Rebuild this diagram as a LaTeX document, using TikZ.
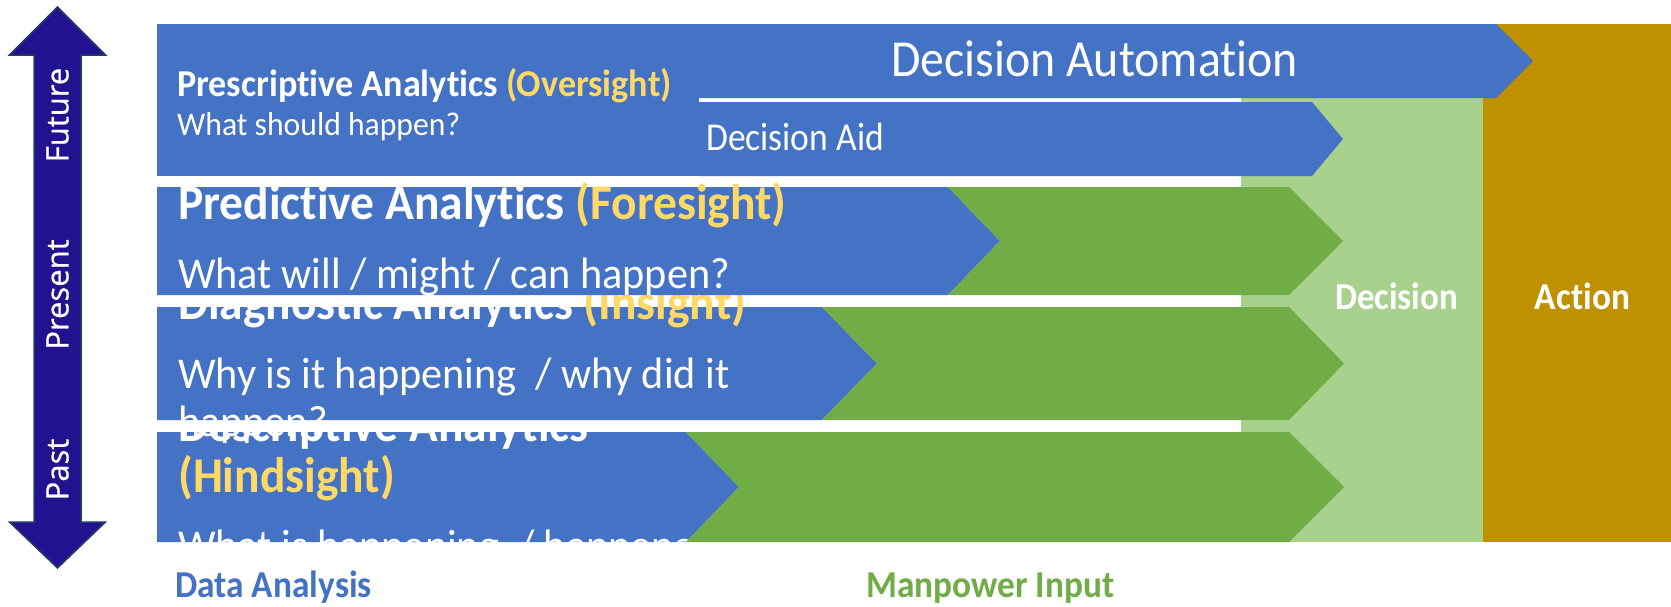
\documentclass[tikz,border=0pt]{standalone}
\usepackage{fontspec}
\usepackage{graphicx}
\newfontfamily\cf[Ligatures=NoCommon]{Carlito}
\newfontfamily\osf[FakeBold=0.6]{Open Sans}
\definecolor{bandblue}{HTML}{4472C4}
\definecolor{bandgreen}{HTML}{70AD47}
\definecolor{lightgreen}{HTML}{A9D18E}
\definecolor{gold}{HTML}{BF9000}
\definecolor{yel}{HTML}{FFD966}
\definecolor{navy}{HTML}{23128F}
\definecolor{navyedge}{HTML}{243F60}
\newcommand{\hsq}[2]{\scalebox{#1}[1]{#2}}
\newcommand{\fsz}[1]{\fontsize{#1}{#1}\selectfont}
\tikzset{
  lbl/.style={inner sep=0pt, anchor=base west, text=white},
  bluefill/.style={fill=bandblue, draw=none},
  greenfill/.style={fill=bandgreen, draw=none},
  timelbl/.style={inner sep=0pt, text=white, rotate=90, font=\osf\fsz{31}},
}
\begin{document}
\begin{tikzpicture}[x=1pt,y=-1pt]
\useasboundingbox (0,0) rectangle (1671,606);
\fill[white] (0,0) rectangle (1671,606);

% columns
\fill[lightgreen] (1241,98) rectangle (1483,542);
\fill[gold] (1483,24) rectangle (1671,542);

% ---------- Descriptive ----------
\fill[bluefill] (157,432) -- (686,432) -- (739,487) -- (686,542) -- (157,542) -- cycle;
\node[lbl, font=\cf\bfseries\fsz{50}] (deschead) at (178,441) {\hsq{0.95}{Descriptive Analytics}};
\node[lbl, font=\cf\bfseries\fsz{50}, text=yel] (deschind) at (178,492) {\hsq{0.95}{(Hindsight)}};
\node[lbl, font=\cf\fsz{44}] (descq) at (178,560) {\hsq{0.96}{What is happening \ / happened?}};
\fill[greenfill] (686,432) -- (1289,432) -- (1344,487) -- (1289,542) -- (686,542) -- (739,487) -- cycle;

% ---------- Diagnostic ----------
\fill[bluefill] (157,307) -- (822,307) -- (877,363.5) -- (822,420) -- (157,420) -- cycle;
\node[lbl, font=\cf\bfseries\fsz{50}] (diaghead) at (178,319) {\hsq{0.95}{Diagnostic Analytics {\color{yel}(Insight)}}};
\node[lbl, font=\cf\fsz{44}] (diagq) at (178,388) {\hsq{0.96}{Why is it happening \ / why did it}};
\node[lbl, font=\cf\fsz{44}] (diagq2) at (178,436) {\hsq{0.96}{happen?}};
\fill[greenfill] (822,307) -- (1289,307) -- (1344,363.5) -- (1289,420) -- (822,420) -- (877,363.5) -- cycle;

% ---------- Predictive ----------
\fill[bluefill] (157,187) -- (948,187) -- (1000,241) -- (948,295) -- (157,295) -- cycle;
\node[lbl, font=\cf\bfseries\fsz{50}] (predhead) at (178,219) {\hsq{0.95}{Predictive Analytics {\color{yel}(Foresight)}}};
\node[lbl, font=\cf\fsz{44}] (predq) at (178,288) {\hsq{0.96}{What will / might / can happen?}};
\fill[greenfill] (948,187) -- (1289,187) -- (1343,241) -- (1289,295) -- (948,295) -- (1000,241) -- cycle;

% ---------- Prescriptive ----------
\fill[bluefill] (157,24) rectangle (699,176);
\fill[bluefill] (699,102) -- (1312,102) -- (1343,139) -- (1312,176) -- (699,176) -- cycle;
\fill[bluefill] (157,24) -- (1496,24) -- (1533,61) -- (1496,98) -- (157,98) -- cycle;
\node[lbl, font=\cf\bfseries\fsz{38}] (preshead) at (177,96.7) {\hsq{0.95}{Prescriptive Analytics {\color{yel}(Oversight)}}};
\node[lbl, font=\cf\fsz{33}] (presq) at (177,135) {\hsq{0.96}{What should happen?}};
\node[lbl, anchor=base, font=\cf\fsz{52}] (auto) at (1094.5,76.5) {\hsq{0.92}{Decision Automation}};
\node[lbl, font=\cf\fsz{39.5}] (aid) at (706,150) {\hsq{0.9}{Decision Aid}};

% column labels
\node[lbl, anchor=base, font=\cf\bfseries\fsz{38}] (decision) at (1396.5,309) {\hsq{0.92}{Decision}};
\node[lbl, anchor=base, font=\cf\bfseries\fsz{38}] (action) at (1582.5,309) {\hsq{0.93}{Action}};

% bottom labels
\node[lbl, font=\cf\bfseries\fsz{38}, text=bandblue] (dataan) at (175,597) {\hsq{0.93}{Data Analysis}};
\node[lbl, font=\cf\bfseries\fsz{38}, text=bandgreen] (manp) at (866,597) {\hsq{0.93}{Manpower Input}};

% time arrow
\filldraw[fill=navy, draw=navyedge, line width=1.5pt, line join=miter]
  (57.5,7) -- (105.5,55) -- (81,55) -- (81,522) -- (105.5,522) -- (57.5,568)
  -- (9.5,522) -- (34,522) -- (34,55) -- (9.5,55) -- cycle;
\node[timelbl] (future) at (57.5,115) {Future};
\node[timelbl] (present) at (57.5,294.5) {Present};
\node[timelbl] (past) at (57.5,469.5) {Past};
\end{tikzpicture}
\end{document}
